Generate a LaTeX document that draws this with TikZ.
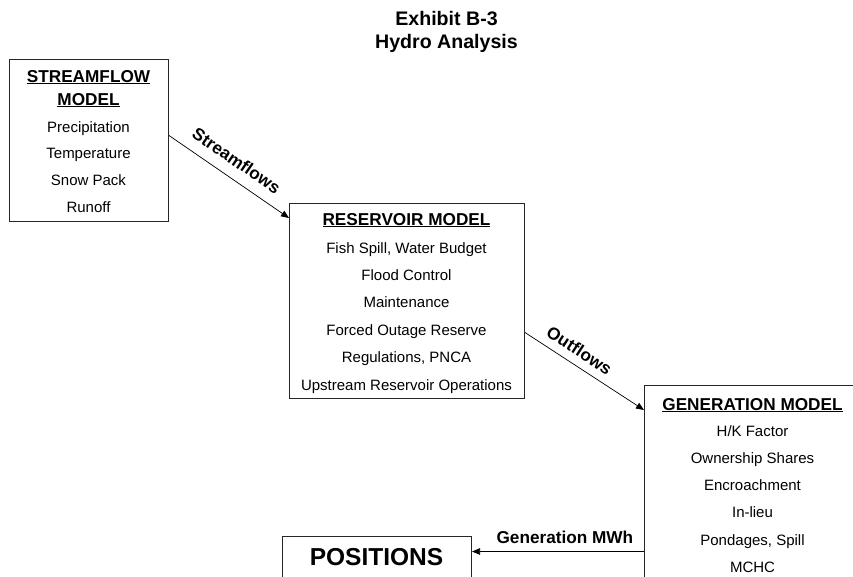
\documentclass[tikz,border=0pt]{standalone}
\usepackage{fontspec}
\setmainfont{Liberation Sans}
\usetikzlibrary{arrows.meta}

% bold heading with a thick rule under it
\newcommand{\headul}[1]{\setbox0\hbox{#1}\rlap{\rule[-2.4pt]{\wd0}{1.2pt}}\box0}

\begin{document}
\begin{tikzpicture}[
  x=1pt, y=-1pt,
  box/.style={rectangle, draw=black!85, line width=1pt, anchor=north west, inner sep=0pt},
  title/.style={anchor=base, inner sep=0pt, font=\bfseries\fontsize{19.6}{22}\selectfont},
  head/.style={anchor=base, inner sep=0pt, font=\bfseries\fontsize{17.2}{20}\selectfont},
  item/.style={anchor=base, inner sep=0pt, font=\fontsize{15}{18}\selectfont},
  flow/.style={draw, line width=0.7pt, -{Triangle[length=8pt,width=6.5pt]}},
  flowlabel/.style={inner sep=0pt, font=\bfseries\fontsize{17.2}{20}\selectfont}
]
  \useasboundingbox (0,0) rectangle (853,576);
  \clip (0,0) rectangle (853,576);

  \node[title] (title) at (446.5,25.5) {Exhibit B-3};
  \node[title] (subtitle) at (446.5,48) {Hydro Analysis};

  % streamflow model
  \node[box, minimum width=159pt, minimum height=162pt] (stream) at (9,59) {};
  \node[head] (stream-head) at (88.5,82) {\headul{STREAMFLOW}};
  \node[head] (stream-head2) at (88.5,105) {\headul{MODEL}};
  \foreach \txt [count=\i] in {Precipitation, Temperature, Snow Pack, Runoff}
    \node[item] (stream-\i) at (88.5,{132+26.7*(\i-1)}) {\txt};

  % reservoir model
  \node[box, minimum width=235pt, minimum height=195pt] (reservoir) at (289,203) {};
  \node[head] (reservoir-head) at (406.5,225) {\headul{RESERVOIR MODEL}};
  \foreach \txt [count=\i] in {{Fish Spill, Water Budget}, Flood Control, Maintenance,
      Forced Outage Reserve, {Regulations, PNCA}, Upstream Reservoir Operations}
    \node[item] (reservoir-\i) at (406.5,{253+27.4*(\i-1)}) {\txt};

  % generation model
  \node[box, minimum width=217pt, minimum height=220pt] (gen) at (644,385) {};
  \node[head] (gen-head) at (752.5,410) {\headul{GENERATION MODEL}};
  \foreach \txt [count=\i] in {H/K Factor, Ownership Shares, Encroachment, In-lieu,
      {Pondages, Spill}, MCHC}
    \node[item] (gen-\i) at (752.5,{436+27.3*(\i-1)}) {\txt};

  % positions
  \node[box, minimum width=189pt, minimum height=60pt] (pos) at (282,536) {};
  \node[anchor=base, inner sep=0pt, font=\bfseries\fontsize{24.5}{28}\selectfont]
    (pos-text) at (376.5,565) {POSITIONS};

  % flows between the models
  \draw[flow] ([yshift=5pt]stream.east) --
    node[flowlabel, sloped, above=11pt, pos=0.48] (streamflows) {Streamflows}
    ([yshift=-15pt]reservoir.north west);
  \draw[flow] ([yshift=-31.5pt]reservoir.east) --
    node[flowlabel, sloped, above=8pt, pos=0.39] (outflows) {Outflows}
    ([yshift=-25pt]gen.north west);
  \draw[flow] ([yshift=-166.5pt]gen.north west) coordinate (mwh-start) --
    node[flowlabel, anchor=base, yshift=8.5pt, pos=0.46] (mwh) {Generation MWh}
    (mwh-start -| pos.east);
\end{tikzpicture}
\end{document}
